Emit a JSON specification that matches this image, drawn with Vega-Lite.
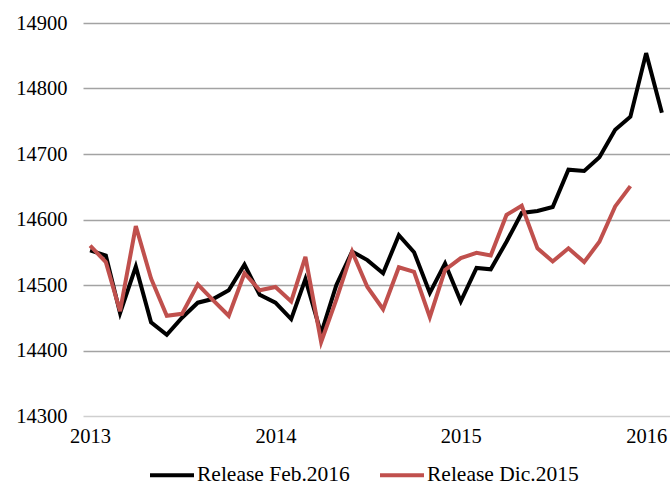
{
  "$schema": "https://vega.github.io/schema/vega-lite/v6.json",
  "width": 587,
  "height": 393,
  "autosize": "none",
  "padding": {"left": 83, "top": 23, "right": 0, "bottom": 71},
  "background": "white",
  "config": {
    "view": {"stroke": null},
    "font": "Liberation Serif",
    "axis": {"labelFont": "Liberation Serif", "labelFontSize": 20.5, "labelColor": "#000000"},
    "legend": {"labelFont": "Liberation Serif", "labelFontSize": 21.5, "labelColor": "#000000"}
  },
  "data": {
    "values": [
      {"date": "2013-01-01T00:00:00", "series": "Release Feb.2016", "value": 14553},
      {"date": "2013-02-01T00:00:00", "series": "Release Feb.2016", "value": 14545},
      {"date": "2013-03-01T00:00:00", "series": "Release Feb.2016", "value": 14457},
      {"date": "2013-04-01T00:00:00", "series": "Release Feb.2016", "value": 14528},
      {"date": "2013-05-01T00:00:00", "series": "Release Feb.2016", "value": 14443},
      {"date": "2013-06-01T00:00:00", "series": "Release Feb.2016", "value": 14424},
      {"date": "2013-07-01T00:00:00", "series": "Release Feb.2016", "value": 14450},
      {"date": "2013-08-01T00:00:00", "series": "Release Feb.2016", "value": 14473},
      {"date": "2013-09-01T00:00:00", "series": "Release Feb.2016", "value": 14479},
      {"date": "2013-10-01T00:00:00", "series": "Release Feb.2016", "value": 14492},
      {"date": "2013-11-01T00:00:00", "series": "Release Feb.2016", "value": 14531},
      {"date": "2013-12-01T00:00:00", "series": "Release Feb.2016", "value": 14485},
      {"date": "2014-01-01T00:00:00", "series": "Release Feb.2016", "value": 14473},
      {"date": "2014-02-01T00:00:00", "series": "Release Feb.2016", "value": 14448},
      {"date": "2014-03-01T00:00:00", "series": "Release Feb.2016", "value": 14509},
      {"date": "2014-04-01T00:00:00", "series": "Release Feb.2016", "value": 14426},
      {"date": "2014-05-01T00:00:00", "series": "Release Feb.2016", "value": 14500},
      {"date": "2014-06-01T00:00:00", "series": "Release Feb.2016", "value": 14551},
      {"date": "2014-07-01T00:00:00", "series": "Release Feb.2016", "value": 14538},
      {"date": "2014-08-01T00:00:00", "series": "Release Feb.2016", "value": 14518},
      {"date": "2014-09-01T00:00:00", "series": "Release Feb.2016", "value": 14576},
      {"date": "2014-10-01T00:00:00", "series": "Release Feb.2016", "value": 14550},
      {"date": "2014-11-01T00:00:00", "series": "Release Feb.2016", "value": 14488},
      {"date": "2014-12-01T00:00:00", "series": "Release Feb.2016", "value": 14533},
      {"date": "2015-01-01T00:00:00", "series": "Release Feb.2016", "value": 14475},
      {"date": "2015-02-01T00:00:00", "series": "Release Feb.2016", "value": 14526},
      {"date": "2015-03-01T00:00:00", "series": "Release Feb.2016", "value": 14524},
      {"date": "2015-04-01T00:00:00", "series": "Release Feb.2016", "value": 14566},
      {"date": "2015-05-01T00:00:00", "series": "Release Feb.2016", "value": 14610},
      {"date": "2015-06-01T00:00:00", "series": "Release Feb.2016", "value": 14613},
      {"date": "2015-07-01T00:00:00", "series": "Release Feb.2016", "value": 14619},
      {"date": "2015-08-01T00:00:00", "series": "Release Feb.2016", "value": 14676},
      {"date": "2015-09-01T00:00:00", "series": "Release Feb.2016", "value": 14674},
      {"date": "2015-10-01T00:00:00", "series": "Release Feb.2016", "value": 14695},
      {"date": "2015-11-01T00:00:00", "series": "Release Feb.2016", "value": 14737},
      {"date": "2015-12-01T00:00:00", "series": "Release Feb.2016", "value": 14757},
      {"date": "2016-01-01T00:00:00", "series": "Release Feb.2016", "value": 14854},
      {"date": "2016-02-01T00:00:00", "series": "Release Feb.2016", "value": 14763},
      {"date": "2013-01-01T00:00:00", "series": "Release Dic.2015", "value": 14560},
      {"date": "2013-02-01T00:00:00", "series": "Release Dic.2015", "value": 14535},
      {"date": "2013-03-01T00:00:00", "series": "Release Dic.2015", "value": 14460},
      {"date": "2013-04-01T00:00:00", "series": "Release Dic.2015", "value": 14590},
      {"date": "2013-05-01T00:00:00", "series": "Release Dic.2015", "value": 14510},
      {"date": "2013-06-01T00:00:00", "series": "Release Dic.2015", "value": 14453},
      {"date": "2013-07-01T00:00:00", "series": "Release Dic.2015", "value": 14456},
      {"date": "2013-08-01T00:00:00", "series": "Release Dic.2015", "value": 14501},
      {"date": "2013-09-01T00:00:00", "series": "Release Dic.2015", "value": 14476},
      {"date": "2013-10-01T00:00:00", "series": "Release Dic.2015", "value": 14453},
      {"date": "2013-11-01T00:00:00", "series": "Release Dic.2015", "value": 14518},
      {"date": "2013-12-01T00:00:00", "series": "Release Dic.2015", "value": 14492},
      {"date": "2014-01-01T00:00:00", "series": "Release Dic.2015", "value": 14497},
      {"date": "2014-02-01T00:00:00", "series": "Release Dic.2015", "value": 14475},
      {"date": "2014-03-01T00:00:00", "series": "Release Dic.2015", "value": 14543},
      {"date": "2014-04-01T00:00:00", "series": "Release Dic.2015", "value": 14413},
      {"date": "2014-05-01T00:00:00", "series": "Release Dic.2015", "value": 14478},
      {"date": "2014-06-01T00:00:00", "series": "Release Dic.2015", "value": 14551},
      {"date": "2014-07-01T00:00:00", "series": "Release Dic.2015", "value": 14497},
      {"date": "2014-08-01T00:00:00", "series": "Release Dic.2015", "value": 14463},
      {"date": "2014-09-01T00:00:00", "series": "Release Dic.2015", "value": 14527},
      {"date": "2014-10-01T00:00:00", "series": "Release Dic.2015", "value": 14520},
      {"date": "2014-11-01T00:00:00", "series": "Release Dic.2015", "value": 14451},
      {"date": "2014-12-01T00:00:00", "series": "Release Dic.2015", "value": 14523},
      {"date": "2015-01-01T00:00:00", "series": "Release Dic.2015", "value": 14541},
      {"date": "2015-02-01T00:00:00", "series": "Release Dic.2015", "value": 14549},
      {"date": "2015-03-01T00:00:00", "series": "Release Dic.2015", "value": 14545},
      {"date": "2015-04-01T00:00:00", "series": "Release Dic.2015", "value": 14607},
      {"date": "2015-05-01T00:00:00", "series": "Release Dic.2015", "value": 14621},
      {"date": "2015-06-01T00:00:00", "series": "Release Dic.2015", "value": 14556},
      {"date": "2015-07-01T00:00:00", "series": "Release Dic.2015", "value": 14536},
      {"date": "2015-08-01T00:00:00", "series": "Release Dic.2015", "value": 14556},
      {"date": "2015-09-01T00:00:00", "series": "Release Dic.2015", "value": 14535},
      {"date": "2015-10-01T00:00:00", "series": "Release Dic.2015", "value": 14566},
      {"date": "2015-11-01T00:00:00", "series": "Release Dic.2015", "value": 14620},
      {"date": "2015-12-01T00:00:00", "series": "Release Dic.2015", "value": 14651}
    ]
  },
  "mark": {"type": "line", "strokeWidth": 4, "clip": false},
  "encoding": {
    "x": {
      "field": "date",
      "type": "temporal",
      "scale": {"domain": [{"year": 2012, "month": 12, "date": 18}, {"year": 2016, "month": 2, "date": 17}]},
      "axis": {
        "title": null,
        "format": "%Y",
        "tickCount": {"interval": "year", "step": 1},
        "grid": false,
        "ticks": false,
        "domain": false,
        "labelPadding": 10,
        "labelFlush": false,
        "labelOverlap": false
      }
    },
    "y": {
      "field": "value",
      "type": "quantitative",
      "scale": {"domain": [14300, 14900], "nice": false, "zero": false},
      "axis": {
        "title": null,
        "values": [14300, 14400, 14500, 14600, 14700, 14800, 14900],
        "format": "d",
        "ticks": false,
        "domain": false,
        "labelPadding": 16,
        "gridColor": {"condition": {"test": "datum.value === 14300", "value": "#cfcfcf"}, "value": "#a3a3a3"},
        "gridWidth": 1.3
      }
    },
    "color": {
      "field": "series",
      "type": "nominal",
      "scale": {"domain": ["Release Feb.2016", "Release Dic.2015"], "range": ["#000000", "#c0504d"]},
      "legend": {
        "title": null,
        "orient": "none",
        "direction": "horizontal",
        "legendX": 65,
        "legendY": 428,
        "padding": 0,
        "symbolType": "stroke",
        "symbolSize": 1936,
        "symbolStrokeWidth": 4,
        "labelOffset": 1,
        "columnPadding": 22
      }
    },
    "order": {"field": "date", "type": "temporal"}
  }
}
